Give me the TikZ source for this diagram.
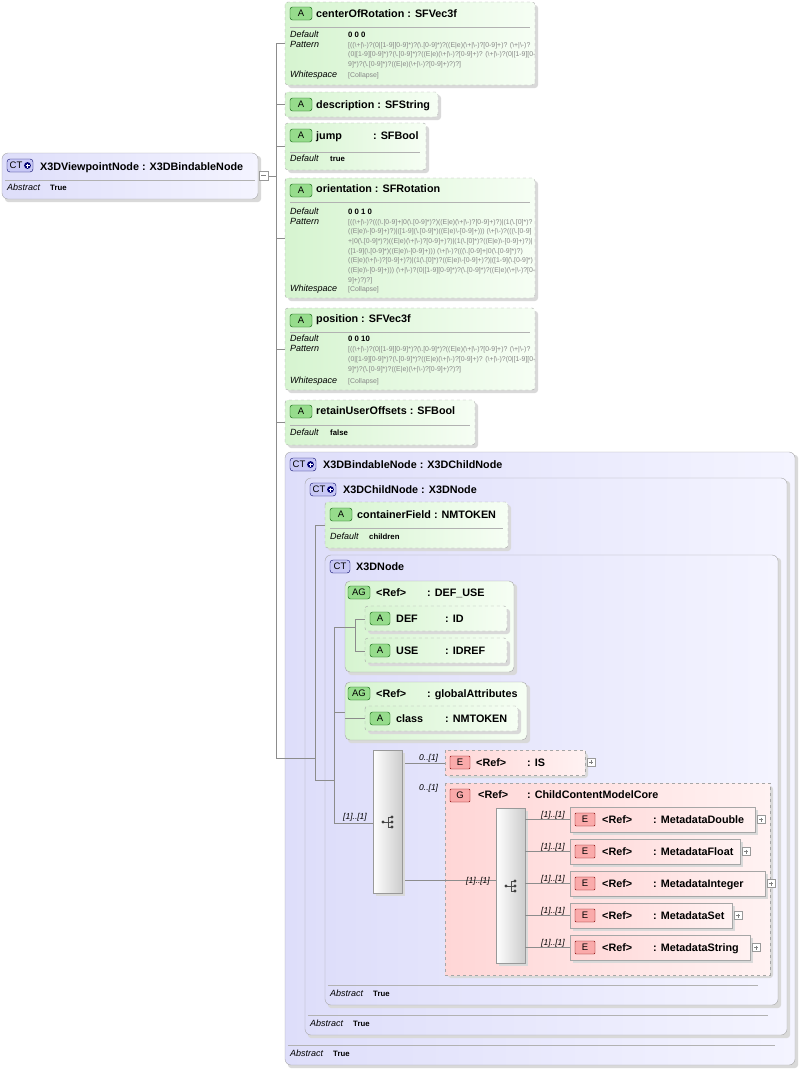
\documentclass[tikz,border=0pt]{standalone}
\usepackage{fontspec}
\setmainfont{Liberation Sans}
\begin{document}
\definecolor{agL}{RGB}{214,244,208}
\definecolor{agR}{RGB}{246,254,244}
\definecolor{ctL}{RGB}{222,222,250}
\definecolor{ctR}{RGB}{244,244,255}
\definecolor{pkL}{RGB}{255,214,214}
\definecolor{pkR}{RGB}{255,242,242}
\definecolor{bgA}{RGB}{150,220,140}
\definecolor{bgE}{RGB}{250,170,170}
\definecolor{bgC}{RGB}{200,200,245}
\definecolor{patc}{RGB}{135,135,135}
\begin{tikzpicture}[x=1pt,y=-1pt,
 shadow/.style={fill=black!15,rounded corners=3pt},
 attr/.style={draw=black!35,dashed,left color=agL,right color=agR,rounded corners=3pt},
 ag/.style={draw=black!35,left color=agL,right color=agR,rounded corners=5pt},
 ct/.style={draw=black!35,left color=ctL,right color=ctR,rounded corners=6pt},
 ele/.style={draw=black!35,left color=pkL,right color=pkR},
 eleo/.style={draw=black!35,dashed,left color=pkL,right color=pkR},
 seq/.style={draw=black!40,left color=white,right color=black!20},
 ba/.style={draw=green!35!black,fill=bgA,rounded corners=2.5pt},
 be/.style={draw=red!50!black,fill=bgE,rounded corners=1pt},
 bc/.style={draw=blue!40!black,fill=bgC,rounded corners=3pt},
 btx/.style={font=\fontsize{9.5}{10}\selectfont,inner sep=0},
 ttl/.style={font=\fontsize{10.8}{12}\selectfont\bfseries,anchor=base west,inner sep=0},
 lbl/.style={font=\fontsize{9}{10}\selectfont\itshape,anchor=base west,inner sep=0},
 val/.style={font=\fontsize{7.8}{9}\selectfont\bfseries,anchor=base west,inner sep=0},
 pat/.style={font=\fontsize{6.9}{8}\selectfont,text=patc,anchor=base west,inner sep=0},
 mul/.style={font=\fontsize{8.5}{9}\selectfont\itshape,anchor=base west,inner sep=0},
 sep/.style={draw=black!30},
 con/.style={draw=black!45,line width=0.5pt}]
\useasboundingbox (0,0) rectangle (799,1069);
\newcommand\shb[5]{\fill[shadow] (#2+3,#3+3) rectangle (#4+3,#5+3);\path[#1] (#2,#3) rectangle (#4,#5);}
\newcommand\bdg[5]{\draw[#1] (#2,#3) rectangle ++(#4,13);\node[btx] at (#2+#4/2,#3+6.5) {#5};}
\newcommand\ctp[2]{\draw[bc] (#1,#2) rectangle ++(26,13);\node[btx] at (#1+9,#2+6.5) {CT};\fill[blue!45!black] (#1+20.5,#2+6.5) circle (3.4);\draw[white,line width=0.9pt] (#1+18.5,#2+6.5)--(#1+22.5,#2+6.5) (#1+20.5,#2+4.5)--(#1+20.5,#2+8.5);}
\newcommand\pls[2]{\draw[black!40,fill=white] (#1,#2-4) rectangle ++(8,8);\draw[black!50] (#1+2,#2)--(#1+6,#2) (#1+4,#2-2)--(#1+4,#2+2);}
\newcommand\ico[2]{\draw[black!70,line width=0.6pt] (#1-6,#2)--(#1-1,#2) (#1-1,#2-5)--(#1-1,#2+5) (#1-1,#2-5)--(#1+3,#2-5) (#1-1,#2)--(#1+3,#2) (#1-1,#2+5)--(#1+3,#2+5);\fill[black!75] (#1-6,#2) circle (1.6) (#1+3,#2-5) circle (1.6) (#1+3,#2) circle (1.6) (#1+3,#2+5) circle (1.6);}
\newcommand\patx[1]{\detokenize{#1}}

% connectors
\draw[con] (268,176)--(276,176) (276,43)--(276,758);
\foreach \yy in {43,104,146,238,349,422} \draw[con] (276,\yy)--(285,\yy);

% X3DViewpointNode
\shb{ct}{2}{153}{258}{199}
\ctp{7}{159}
\node[ttl] (vp) at (40,170) {X3DViewpointNode : X3DBindableNode};
\draw[sep] (5,180)--(255,180);
\node[lbl] (vpa) at (7,190) {Abstract};
\node[val] (vpt) at (50,190) {True};
\draw[black!40,fill=white] (259,171) rectangle (268,180);\draw[black!50] (261,175.5)--(266,175.5);

% attribute 1
\shb{attr}{285}{2}{535}{85}
\bdg{ba}{290}{7}{22}{A}
\node[ttl] (a1) at (316,17) {centerOfRotation : SFVec3f};
\draw[sep] (290,27)--(530,27);
\node[lbl] at (290,37) {Default};\node[val] at (348,37) {0 0 0};
\node[lbl] at (290,47) {Pattern};
\node[pat] at (348,47) {\patx{[((\+|\-)?(0|[1-9][0-9]*)?(\.[0-9]*)?((E|e)(\+|\-)?[0-9]+)? (\+|\-)?}};
\node[pat] at (348,56.5) {\patx{(0|[1-9][0-9]*)?(\.[0-9]*)?((E|e)(\+|\-)?[0-9]+)? (\+|\-)?(0|[1-9][0-}};
\node[pat] at (348,66) {\patx{9]*)?(\.[0-9]*)?((E|e)(\+|\-)?[0-9]+)?)?]}};
\node[lbl] at (290,77) {Whitespace};\node[pat] at (348,77) {[Collapse]};

% attribute 2
\shb{attr}{285}{92}{438}{117}
\bdg{ba}{290}{98}{22}{A}
\node[ttl] (a2) at (316,108) {description : SFString};

% attribute 3
\shb{attr}{285}{123}{426}{170}
\bdg{ba}{290}{129}{22}{A}
\node[ttl] (a3) at (316,139) {jump};\node[ttl] at (373,139) {: SFBool};
\draw[sep] (290,152)--(420,152);
\node[lbl] at (290,161) {Default};\node[val] at (330,161) {true};

% attribute 4
\shb{attr}{285}{178}{535}{298}
\bdg{ba}{290}{184}{22}{A}
\node[ttl] (a4) at (316,192) {orientation : SFRotation};
\draw[sep] (290,202)--(530,202);
\node[lbl] at (290,214) {Default};\node[val] at (348,214) {0 0 1 0};
\node[lbl] at (290,224) {Pattern};
\node[pat] at (348,224) {\patx{[((\+|\-)?(((\.[0-9]+|0(\.[0-9]*)?)((E|e)(\+|\-)?[0-9]+)?)|(1(\.[0]*)?}};
\node[pat] at (348,233.7) {\patx{((E|e)\-[0-9]+)?)|([1-9](\.[0-9]*)((E|e)\-[0-9]+))) (\+|\-)?(((\.[0-9]}};
\node[pat] at (348,243.4) {\patx{+|0(\.[0-9]*)?)((E|e)(\+|\-)?[0-9]+)?)|(1(\.[0]*)?((E|e)\-[0-9]+)?)|}};
\node[pat] at (348,253.1) {\patx{([1-9](\.[0-9]*)((E|e)\-[0-9]+))) (\+|\-)?(((\.[0-9]+|0(\.[0-9]*)?)}};
\node[pat] at (348,262.8) {\patx{((E|e)(\+|\-)?[0-9]+)?)|(1(\.[0]*)?((E|e)\-[0-9]+)?)|([1-9](\.[0-9]*)}};
\node[pat] at (348,272.5) {\patx{((E|e)\-[0-9]+))) (\+|\-)?(0|[1-9][0-9]*)?(\.[0-9]*)?((E|e)(\+|\-)?[0-}};
\node[pat] at (348,282.2) {\patx{9]+)?)?]}};
\node[lbl] at (290,291) {Whitespace};\node[pat] at (348,291) {[Collapse]};

% attribute 5
\shb{attr}{285}{308}{535}{390}
\bdg{ba}{290}{314}{22}{A}
\node[ttl] (a5) at (316,322) {position : SFVec3f};
\draw[sep] (290,332)--(530,332);
\node[lbl] at (290,341) {Default};\node[val] at (348,341) {0 0 10};
\node[lbl] at (290,351) {Pattern};
\node[pat] at (348,351) {\patx{[((\+|\-)?(0|[1-9][0-9]*)?(\.[0-9]*)?((E|e)(\+|\-)?[0-9]+)? (\+|\-)?}};
\node[pat] at (348,361) {\patx{(0|[1-9][0-9]*)?(\.[0-9]*)?((E|e)(\+|\-)?[0-9]+)? (\+|\-)?(0|[1-9][0-}};
\node[pat] at (348,371) {\patx{9]*)?(\.[0-9]*)?((E|e)(\+|\-)?[0-9]+)?)?]}};
\node[lbl] at (290,383) {Whitespace};\node[pat] at (348,383) {[Collapse]};

% attribute 6
\shb{attr}{285}{400}{475}{445}
\bdg{ba}{290}{405}{22}{A}
\node[ttl] (a6) at (316,414) {retainUserOffsets : SFBool};
\draw[sep] (290,425)--(470,425);
\node[lbl] at (290,435) {Default};\node[val] at (330,435) {false};

% X3DBindableNode
\shb{ct}{285}{452}{795}{1065}
\ctp{290}{458}
\node[ttl] (bn) at (323,468) {X3DBindableNode : X3DChildNode};
\draw[sep] (288,1045)--(775,1045);
\node[lbl] at (290,1056) {Abstract};\node[val] at (333,1056) {True};

% X3DChildNode
\shb{ct}{305}{478}{787}{1035}
\ctp{310}{483}
\node[ttl] (cn) at (343,493) {X3DChildNode : X3DNode};
\draw[sep] (308,1015)--(768,1015);
\node[lbl] at (310,1026) {Abstract};\node[val] at (353,1026) {True};

\draw[con] (276,758)--(315,758) (315,525)--(315,780) (315,525)--(325,525) (315,780)--(334,780);

% containerField
\shb{attr}{325}{502}{508}{548}
\bdg{ba}{330}{508}{22}{A}
\node[ttl] (cf) at (357,518) {containerField : NMTOKEN};
\draw[sep] (330,528)--(503,528);
\node[lbl] at (330,539) {Default};\node[val] at (369,539) {children};

% X3DNode
\shb{ct}{325}{555}{778}{1005}
\draw[bc] (330,560) rectangle ++(20,13);\node[btx] at (340,566.5) {CT};
\node[ttl] (xn) at (356,570) {X3DNode};
\draw[sep] (328,985)--(758,985);
\node[lbl] at (330,996) {Abstract};\node[val] at (373,996) {True};
\draw[con] (315,758)--(315,780)--(334,780) (334,627)--(334,823) (334,627)--(355,627) (334,712)--(345,712);

% AG DEF_USE
\shb{ag}{345}{581}{514}{672}
\bdg{ba}{348}{586}{22}{AG}
\node[ttl] (du) at (376,596) {<Ref>};\node[ttl] at (427,596) {: DEF\_USE};
\draw[con] (345,627)--(355,627) (355,619)--(355,651) (355,619)--(365,619) (355,651)--(365,651);
\shb{attr}{365}{606}{507}{631}
\bdg{ba}{370}{612}{20}{A}
\node[ttl] (def) at (396,622) {DEF};\node[ttl] at (445,622) {: ID};
\shb{attr}{365}{638}{507}{663}
\bdg{ba}{370}{644}{20}{A}
\node[ttl] (use) at (396,654) {USE};\node[ttl] at (445,654) {: IDREF};

% AG globalAttributes
\shb{ag}{345}{682}{527}{740}
\bdg{ba}{348}{687}{22}{AG}
\node[ttl] (ga) at (376,697) {<Ref>};\node[ttl] at (427,697) {: globalAttributes};
\draw[con] (345,718)--(365,718);
\shb{attr}{365}{706}{518}{731}
\bdg{ba}{370}{712}{20}{A}
\node[ttl] (cl) at (396,722) {class};\node[ttl] at (445,722) {: NMTOKEN};

% sequence 1
\draw[con] (334,823)--(373,823) (402,763)--(445,763) (402,880)--(496,880);
\node[mul] at (343,819) {[1]..[1]};
\fill[black!15] (376,753) rectangle (405,896);
\path[seq] (373,750) rectangle (402,893);
\ico{389}{822}

% E IS
\shb{eleo}{445}{750}{585}{775}
\bdg{be}{450}{756}{20}{E}
\node[ttl] (is) at (476,766) {<Ref>};\node[ttl] at (527,766) {: IS};
\pls{587}{762}
\node[mul] at (419,760) {0..[1]};

% G ChildContentModelCore
\shb{eleo}{445}{783}{770}{975}
\bdg{be}{450}{789}{20}{G}
\node[ttl] (g) at (478,798) {<Ref>};\node[ttl] at (527,798) {: ChildContentModelCore};
\node[mul] at (419,790) {0..[1]};
\draw[con] (445,880)--(496,880);
\node[mul] at (466,883) {[1]..[1]};
\fill[black!15] (499,811) rectangle (528,966);
\path[seq] (496,808) rectangle (525,963);
\ico{512}{886}

\foreach \yt/\xr/\nm in {807/755/MetadataDouble,839/740/MetadataFloat,871/765/MetadataInteger,903/732/MetadataSet,935/750/MetadataString}{
 \draw[con] (525,\yt+12.5)--(570,\yt+12.5);
 \node[mul] at (541,\yt+10) {[1]..[1]};
 \fill[black!15] (573,\yt+3) rectangle (\xr+3,\yt+28);
 \path[ele] (570,\yt) rectangle (\xr,\yt+25);
 \draw[be] (575,\yt+6) rectangle ++(20,13);\node[btx] at (585,\yt+12.5) {E};
 \node[ttl] at (602,\yt+16) {<Ref>};\node[ttl] at (653,\yt+16) {: \nm};
 \pls{\xr+2}{\yt+12.5}
}
\end{tikzpicture}
\end{document}
